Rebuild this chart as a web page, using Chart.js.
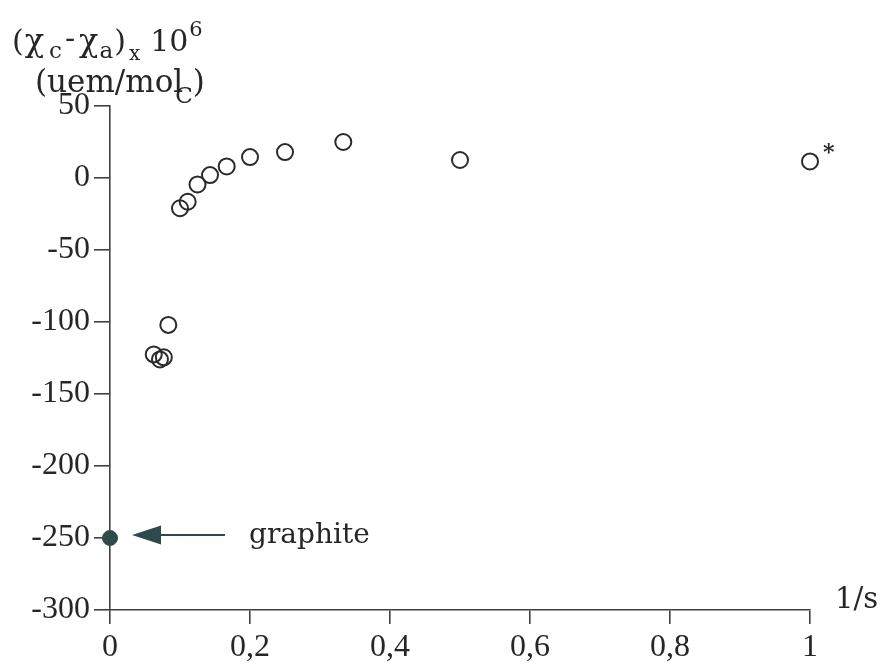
<!DOCTYPE html>
<html>
<head>
<meta charset="utf-8">
<script src="https://cdn.jsdelivr.net/npm/chart.js@4/dist/chart.umd.min.js"></script>
<style>
  html, body { margin: 0; padding: 0; background: #ffffff; }
  #wrap { width: 884px; height: 664px; position: relative; }
</style>
</head>
<body>
<div id="wrap"><canvas id="c" width="884" height="664"></canvas></div>
<script>
// ---- data ----
const invS = [0.0625, 0.0714, 0.0769, 0.0833, 0.1, 0.111, 0.125, 0.1429, 0.1667, 0.2, 0.25, 0.3333, 0.5, 1];
const deltaChi = [-122.5, -126, -124.5, -102, -21, -16.5, -4.5, 2, 8, 14.5, 18, 25, 12.5, 11.5];
const graphiteX = [0];
const graphiteY = [-250];
const xTickValues = [0, 0.2, 0.4, 0.6, 0.8, 1];
const xTickLabels = ['0', '0,2', '0,4', '0,6', '0,8', '1'];
const yTickValues = [50, 0, -50, -100, -150, -200, -250, -300];
const graphiteLabel = 'graphite';
const xAxisTitle = '1/s';
const starredIndex = 13;

const NUMFONT = "'Liberation Serif', 'Times New Roman', serif";
const TXTFONT = "'DejaVu Serif', serif";
const INK = '#262626';
const AXIS = '#404040';
const DARK = '#2f4a4a';

const annotations = {
  id: 'annotations',
  afterDraw(chart) {
    const ctx = chart.ctx;
    const xs = chart.scales.x, ys = chart.scales.y;
    ctx.save();
    ctx.fillStyle = INK;
    ctx.textBaseline = 'alphabetic';
    ctx.textAlign = 'left';

    // y-axis title, line 1: (χc - χa)x 10^6
    const runs1 = [
      ['(', 30, 0, 0], ['χ', 32, 0, 1], ['c', 23, 7, 5], ['-', 30, -3, 3],
      ['χ', 32, 0, 4], ['a', 23, 7, 1], [')', 30, 0, 1], ['x', 20, 9, 3],
      ['10', 30, 0, 10], ['6', 21, -15, 1]
    ];
    let x = 12;
    const base1 = 51;
    for (const [t, sz, dy, gap] of runs1) {
      x += gap;
      ctx.font = sz + 'px ' + TXTFONT;
      ctx.fillText(t, x, base1 + dy);
      x += ctx.measureText(t).width;
    }
    // line 2: (uem/molC)
    const base2 = 92;
    ctx.font = '31px ' + TXTFONT;
    let x2 = 35;
    ctx.fillText('(uem/mol', x2, base2);
    x2 += ctx.measureText('(uem/mol').width;
    ctx.font = '23px ' + TXTFONT;
    ctx.fillText('C', x2 - 8, base2 + 11);
    x2 += ctx.measureText('C').width - 8;
    ctx.font = '31px ' + TXTFONT;
    ctx.fillText(')', x2, base2);

    // x-axis title
    ctx.font = '29px ' + TXTFONT;
    ctx.fillText(xAxisTitle, xs.right + 25, ys.bottom - 2);

    // asterisk next to the last point
    const px = xs.getPixelForValue(invS[starredIndex]);
    const py = ys.getPixelForValue(deltaChi[starredIndex]);
    ctx.font = 'bold 22px ' + TXTFONT;
    ctx.fillText('*', px + 13, py - 2);

    // arrow to graphite point
    const gx = xs.getPixelForValue(graphiteX[0]);
    const gy = ys.getPixelForValue(graphiteY[0]) - 3;
    ctx.fillStyle = DARK;
    ctx.strokeStyle = DARK;
    ctx.beginPath();
    ctx.moveTo(gx + 22, gy);
    ctx.lineTo(gx + 51, gy - 9.5);
    ctx.lineTo(gx + 51, gy + 9.5);
    ctx.closePath();
    ctx.fill();
    ctx.lineWidth = 1.8;
    ctx.beginPath();
    ctx.moveTo(gx + 48, gy);
    ctx.lineTo(gx + 115, gy);
    ctx.stroke();
    ctx.fillStyle = INK;
    ctx.font = '28px ' + TXTFONT;
    ctx.fillText(graphiteLabel, gx + 139, gy + 8);
    ctx.restore();
  }
};

new Chart(document.getElementById('c'), {
  type: 'scatter',
  data: {
    datasets: [
      {
        label: 'samples',
        data: invS.map((v, i) => ({ x: v, y: deltaChi[i] })),
        pointRadius: 8,
        pointHoverRadius: 8,
        pointBorderWidth: 2,
        pointBorderColor: '#2a2a2a',
        pointBackgroundColor: 'rgba(255,255,255,0)',
        clip: false
      },
      {
        label: 'graphite',
        data: graphiteX.map((v, i) => ({ x: v, y: graphiteY[i] })),
        pointRadius: 7.5,
        pointBorderWidth: 1,
        pointBorderColor: DARK,
        pointBackgroundColor: DARK,
        clip: false
      }
    ]
  },
  options: {
    responsive: false,
    animation: false,
    devicePixelRatio: 1,
    layout: { padding: { left: 0, right: 74, top: 106, bottom: 0 } },
    plugins: { legend: { display: false }, tooltip: { enabled: false } },
    scales: {
      x: {
        type: 'linear',
        min: 0, max: 1,
        afterBuildTicks(axis) { axis.ticks = xTickValues.map(v => ({ value: v })); },
        afterFit(axis) { axis.height = 54; },
        ticks: {
          padding: 4,
          color: INK,
          font: { family: NUMFONT, size: 32 },
          maxRotation: 0,
          callback(value) {
            const i = xTickValues.findIndex(v => Math.abs(v - value) < 1e-9);
            return i >= 0 ? xTickLabels[i] : '';
          }
        },
        grid: { display: true, drawOnChartArea: false, drawTicks: true, tickLength: 14, color: AXIS, lineWidth: 1.6 },
        border: { display: true, color: AXIS, width: 1.6 }
      },
      y: {
        type: 'linear',
        min: -300, max: 50,
        afterBuildTicks(axis) { axis.ticks = yTickValues.map(v => ({ value: v })); },
        afterFit(axis) { axis.width = 110; },
        ticks: {
          padding: 4,
          color: INK,
          font: { family: NUMFONT, size: 32 },
          callback(value) { return String(value); }
        },
        grid: { display: true, drawOnChartArea: false, drawTicks: true, tickLength: 16, color: AXIS, lineWidth: 1.6 },
        border: { display: true, color: AXIS, width: 1.6 }
      }
    }
  },
  plugins: [annotations]
});
</script>
</body>
</html>
